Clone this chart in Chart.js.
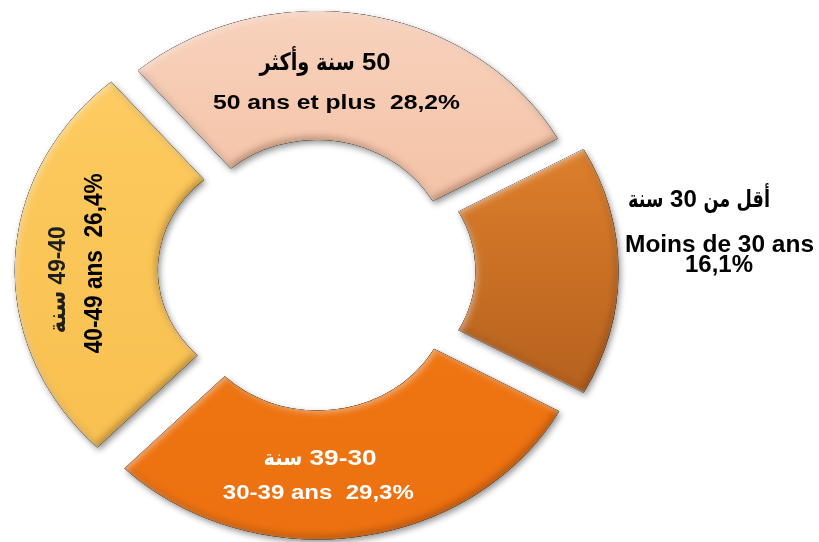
<!DOCTYPE html>
<html><head><meta charset="utf-8">
<script src="https://cdn.jsdelivr.net/npm/chart.js@4.4.0/dist/chart.umd.min.js"></script>
<style>html,body{margin:0;padding:0;background:#fff;overflow:hidden}#wrap{width:819px;height:542px;position:relative}</style>
</head><body><div id="wrap"><canvas id="c" width="819" height="542"></canvas></div>
<script>
// ---- data ----
const categories = ['Moins de 30 ans', '30-39 ans', '40-49 ans', '50 ans et plus'];
const categoriesAr = ['أقل من 30 سنة', '39-30 سنة', '49-40 سنة', '50 سنة وأكثر'];
const shares = [16.1, 29.3, 26.4, 28.2];
const shareLabels = ['16,1%', '29,3%', '26,4%', '28,2%'];

// ---- styling / layout ----
const SX = 1.11;                 // horizontal stretch of the ring (ellipse)
const explode = [90, 80, 88, 48]; // Chart.js offset per slice (moves by offset/4 px)
const segColors = [
  ['#e3893a', '#da7d2b', '#b8631f', '#ae5c1b'],
  ['#f5841e', '#f17a15', '#ee7411', '#ec7010'],
  ['#fdcf6a', '#fcc85b', '#f9c253', '#f7bd4c'],
  ['#f8d3be', '#f5c6ab', '#f0ba9c', '#ebb193']
];
const LATIN = '"Liberation Sans",Arial,sans-serif';
const ARAB = '"DejaVu Sans",sans-serif';

function grad(ctx, i) {
  const chart = ctx.chart;
  const a = chart.chartArea;
  if (!a) return segColors[i][1];
  const cy = (a.top + a.bottom) / 2;
  const g = chart.ctx.createLinearGradient(0, cy - 260, 0, cy + 260);
  const s = segColors[i];
  g.addColorStop(0, s[0]);
  g.addColorStop(0.3, s[1]);
  g.addColorStop(0.7, s[2]);
  g.addColorStop(1, s[3]);
  return g;
}

function arcPath(c, el) {
  const off = (el.options.offset || 0) / 4;
  const s = el.startAngle, e = el.endAngle, mid = (s + e) / 2;
  const x = el.x + Math.cos(mid) * off, y = el.y + Math.sin(mid) * off;
  const ro = off * (1 - Math.sin(Math.min(Math.PI, e - s)));
  const R = el.outerRadius + ro, r = el.innerRadius + ro;
  c.moveTo(x + R * Math.cos(s), y + R * Math.sin(s));
  c.arc(x, y, R, s, e);
  c.arc(x, y, r, e, s, true);
  c.closePath();
}

function stretchIn(chart) {
  const c = chart.ctx, a = chart.chartArea;
  const cx = (a.left + a.right) / 2, cy = (a.top + a.bottom) / 2;
  c.translate(cx, cy); c.scale(SX, 1); c.translate(-cx, -cy);
}

function innerShadow(c, el, color, blur, dx, dy) {
  c.save();
  c.beginPath(); arcPath(c, el); c.clip();
  c.beginPath();
  c.rect(-3000, -3000, 7000, 7000);
  arcPath(c, el);
  c.shadowColor = color; c.shadowBlur = blur; c.shadowOffsetX = dx; c.shadowOffsetY = dy;
  c.fillStyle = '#000';
  c.fill('evenodd');
  c.restore();
}

const stretch = {
  id: 'stretch',
  beforeDatasetsDraw(chart) {
    const c = chart.ctx;
    const els = chart.getDatasetMeta(0).data;
    // drop shadows
    c.save();
    stretchIn(chart);
    c.shadowColor = 'rgba(0,0,0,0.42)';
    c.shadowBlur = 6;
    c.shadowOffsetX = 2;
    c.shadowOffsetY = 3;
    c.fillStyle = '#fff';
    for (const el of els) { c.beginPath(); arcPath(c, el); c.fill(); }
    c.restore();
    c.save();
    stretchIn(chart);
  },
  afterDatasetsDraw(chart) {
    const c = chart.ctx;
    const els = chart.getDatasetMeta(0).data;
    for (const el of els) {
      innerShadow(c, el, 'rgba(60,25,0,0.35)', 7, -2, -3);
      innerShadow(c, el, 'rgba(255,255,255,0.45)', 6, 2, 2);
    }
    c.restore();
  }
};

// label lines: [text, x, baselineY, fontSize, targetWidth, color, rotation, perpScale, digitScale, rtl]
function labelLines() {
  return [
    [categoriesAr[3], 325, 70, 24, 131, '#000', 0, 1, 1.07, true],
    [categories[3] + '  ' + shareLabels[3], 336.5, 109, 20, 247, '#000', 0, 1, 1, false],
    [categoriesAr[0], 699, 207, 24, 142, '#000', 0, 1, 1.0, true],
    [categories[0], 719.5, 252, 24, 189, '#000', 0, 1, 1, false],
    [shareLabels[0], 719, 272, 24, 68, '#000', 0, 1, 1, false],
    [categoriesAr[1], 320, 465, 22, 113, '#fff', 0, 1, 1.19, true],
    [categories[1] + '  ' + shareLabels[1], 318.3, 499, 20, 191, '#fff', 0, 1, 1, false],
    [categoriesAr[2], 65, 280, 22, 107, '#1e1e1e', -90, 1.08, 1.03, true],
    [categories[2] + '  ' + shareLabels[2], 101.7, 263.3, 22, 180, '#000', -90, 1.15, 1, false]
  ];
}

function drawFitted(c, text, size, w, py) {
  c.font = 'bold ' + size + 'px ' + LATIN;
  c.textAlign = 'center';
  const mw = c.measureText(text).width;
  c.scale(w / mw, py);
  c.fillText(text, 0, 0);
}

function drawArabic(c, text, size, w, py, hs) {
  const parts = text.split(/(\d+(?:-\d+)?)/).map(s => s.trim()).filter(Boolean);
  const isNum = p => /^\d/.test(p);
  c.font = 'bold ' + size + 'px ' + LATIN;
  const spaceW = c.measureText(' ').width * hs;
  let numW = 0, arW = 0;
  const widths = parts.map(p => {
    c.font = 'bold ' + size + 'px ' + (isNum(p) ? LATIN : ARAB);
    const m = c.measureText(p).width;
    if (isNum(p)) numW += m * hs; else arW += m;
    return m;
  });
  const f = (w - numW - spaceW * (parts.length - 1)) / arW;
  let cur = w / 2; // right edge; RTL: logical order from right to left
  parts.forEach((p, i) => {
    const num = isNum(p);
    const sc = num ? hs : f;
    c.save();
    c.font = 'bold ' + size + 'px ' + (num ? LATIN : ARAB);
    c.direction = num ? 'ltr' : 'rtl';
    c.textAlign = 'right';
    c.translate(cur, 0);
    c.scale(sc, py);
    c.fillText(p, 0, 0);
    c.restore();
    cur -= widths[i] * sc + spaceW;
  });
}

const labels = {
  id: 'labels',
  afterDraw(chart) {
    const c = chart.ctx;
    for (const L of labelLines()) {
      const [text, x, y, size, w, color, rot, py, hs, rtl] = L;
      c.save();
      c.fillStyle = color;
      c.textBaseline = 'alphabetic';
      c.translate(x, y);
      if (rot) c.rotate(rot * Math.PI / 180);
      if (rtl) drawArabic(c, text, size, w, py, hs);
      else drawFitted(c, text, size, w, py);
      c.restore();
    }
  }
};

new Chart(document.getElementById('c'), {
  type: 'doughnut',
  data: {
    labels: categories,
    datasets: [{
      data: shares,
      backgroundColor: (ctx) => grad(ctx, ctx.dataIndex),
      borderWidth: 0,
      offset: explode,
      clip: false
    }]
  },
  options: {
    responsive: false,
    animation: false,
    events: [],
    cutout: '48%',
    radius: 248,
    rotation: 61,
    layout: { padding: { left: 0, right: 190, top: 0, bottom: 0 } },
    plugins: { legend: { display: false }, tooltip: { enabled: false } }
  },
  plugins: [stretch, labels]
});
</script>
</body></html>
